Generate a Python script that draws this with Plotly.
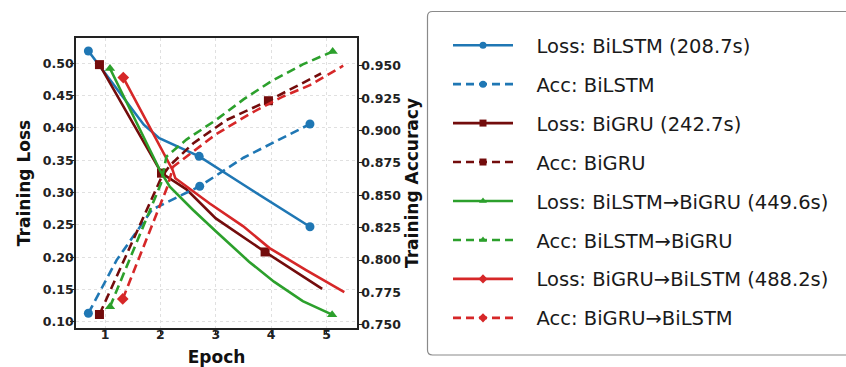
import plotly.graph_objects as go

# ---------------- data ----------------
EPOCH_TICKS = [1, 2, 3, 4, 5]
LOSS_TICKS = [0.10, 0.15, 0.20, 0.25, 0.30, 0.35, 0.40, 0.45, 0.50]
ACC_TICKS = [0.750, 0.775, 0.800, 0.825, 0.850, 0.875, 0.900, 0.925, 0.950]

MODELS = ["BiLSTM", "BiGRU", "BiLSTM→BiGRU", "BiGRU→BiLSTM"]
TIMES = ["208.7s", "242.7s", "449.6s", "488.2s"]

# BiLSTM
BILSTM_LOSS_X = [0.70, 1.70, 1.98, 2.28, 2.70, 3.50, 4.70]
BILSTM_LOSS_Y = [0.519, 0.405, 0.384, 0.372, 0.356, 0.312, 0.247]
BILSTM_LOSS_MARK = [0, 4, 6]
BILSTM_ACC_X = [0.70, 1.21, 1.85, 2.71, 3.50, 4.70]
BILSTM_ACC_Y = [0.759, 0.800, 0.839, 0.857, 0.879, 0.905]
BILSTM_ACC_MARK = [0, 3, 5]

# BiGRU
BIGRU_LOSS_X = [0.90, 2.02, 2.47, 3.00, 3.89, 4.92]
BIGRU_LOSS_Y = [0.498, 0.330, 0.305, 0.260, 0.208, 0.151]
BIGRU_LOSS_MARK = [0, 1, 4]
BIGRU_ACC_X = [0.90, 2.02, 2.17, 2.59, 3.19, 3.95, 4.90]
BIGRU_ACC_Y = [0.758, 0.864, 0.873, 0.890, 0.908, 0.923, 0.944]
BIGRU_ACC_MARK = [0, 5]

# BiLSTM -> BiGRU
HYB1_LOSS_X = [1.09, 2.00, 2.17, 2.59, 3.00, 3.60, 4.05, 4.57, 5.10]
HYB1_LOSS_Y = [0.492, 0.333, 0.309, 0.273, 0.240, 0.193, 0.162, 0.132, 0.111]
HYB1_LOSS_MARK = [0, 8]
HYB1_ACC_X = [1.09, 2.01, 2.11, 2.47, 3.00, 3.50, 4.00, 4.57, 5.11]
HYB1_ACC_Y = [0.764, 0.859, 0.880, 0.893, 0.908, 0.924, 0.938, 0.951, 0.961]
HYB1_ACC_MARK = [0, 8]

# BiGRU -> BiLSTM
HYB2_LOSS_X = [1.33, 2.22, 2.27, 2.89, 3.49, 3.97, 4.63, 5.32]
HYB2_LOSS_Y = [0.478, 0.335, 0.322, 0.283, 0.248, 0.214, 0.180, 0.146]
HYB2_LOSS_MARK = [0]
HYB2_ACC_X = [1.32, 2.13, 2.23, 2.60, 3.00, 3.62, 4.20, 4.70, 5.30]
HYB2_ACC_Y = [0.770, 0.857, 0.872, 0.884, 0.897, 0.913, 0.926, 0.935, 0.950]
HYB2_ACC_MARK = [0]

# ---------------- styling ----------------
COLORS = ["#1f77b4", "#730c0c", "#2ca02c", "#d62728"]
SYMBOLS = ["circle", "square", "triangle-up", "diamond"]
FONT = "DejaVu Sans"
DASH = "9px,5px"
LW = 2.6
MS = 9
PAD = "\u00a0\u00a0\u00a0"

series = [
    (BILSTM_LOSS_X, BILSTM_LOSS_Y, BILSTM_LOSS_MARK, BILSTM_ACC_X, BILSTM_ACC_Y, BILSTM_ACC_MARK),
    (BIGRU_LOSS_X, BIGRU_LOSS_Y, BIGRU_LOSS_MARK, BIGRU_ACC_X, BIGRU_ACC_Y, BIGRU_ACC_MARK),
    (HYB1_LOSS_X, HYB1_LOSS_Y, HYB1_LOSS_MARK, HYB1_ACC_X, HYB1_ACC_Y, HYB1_ACC_MARK),
    (HYB2_LOSS_X, HYB2_LOSS_Y, HYB2_LOSS_MARK, HYB2_ACC_X, HYB2_ACC_Y, HYB2_ACC_MARK),
]


def sizes(n, marks):
    return [MS if i in marks else 0 for i in range(n)]


fig = go.Figure()

for i, (lx, ly, lm, ax, ay, am) in enumerate(series):
    c = COLORS[i]
    fig.add_trace(go.Scatter(
        x=lx, y=ly, mode="lines+markers", yaxis="y", showlegend=False,
        line=dict(color=c, width=LW),
        marker=dict(symbol=SYMBOLS[i], color=c, size=sizes(len(lx), lm), opacity=1, line=dict(width=0)),
        hoverinfo="skip"))
    fig.add_trace(go.Scatter(
        x=ax, y=ay, mode="lines+markers", yaxis="y2", showlegend=False,
        line=dict(color=c, width=LW, dash=DASH),
        marker=dict(symbol=SYMBOLS[i], color=c, size=sizes(len(ax), am), opacity=1, line=dict(width=0)),
        hoverinfo="skip"))

# legend-only entries
for i, m in enumerate(MODELS):
    c = COLORS[i]
    fig.add_trace(go.Scatter(
        x=[None], y=[None], mode="lines+markers", name=f"{PAD}Loss: {m} ({TIMES[i]})",
        legendgroup=f"g{2*i}",
        line=dict(color=c, width=LW), marker=dict(symbol=SYMBOLS[i], color=c, size=7)))
    fig.add_trace(go.Scatter(
        x=[None], y=[None], mode="lines+markers", name=f"{PAD}Acc: {m}",
        legendgroup=f"g{2*i+1}",
        line=dict(color=c, width=LW, dash="8px,5px"), marker=dict(symbol=SYMBOLS[i], color=c, size=7)))

L, T, R, B = 76, 38, 357, 328
W, H = 846, 367
pw, ph = R - L, B - T


def px2x(px):
    return (px - L) / pw


def px2y(py):
    return (B - py) / ph


# rounded legend frame
x0, x1 = px2x(427.5), px2x(856)
y0, y1 = px2y(355), px2y(11.5)
rx, ry = 5 / pw, 5 / ph
path = (f"M{x0+rx},{y1} L{x1-rx},{y1} Q{x1},{y1} {x1},{y1-ry} L{x1},{y0+ry} "
        f"Q{x1},{y0} {x1-rx},{y0} L{x0+rx},{y0} Q{x0},{y0} {x0},{y0+ry} "
        f"L{x0},{y1-ry} Q{x0},{y1} {x0+rx},{y1} Z")
fig.add_shape(type="path", path=path, xref="paper", yref="paper",
              line=dict(color="#8a8a8a", width=1.2), fillcolor="rgba(255,255,255,0)", layer="below")

tickfont = dict(family=FONT, size=12.5, color="#222", weight="bold")
titlefont = dict(family=FONT, size=17, color="#111", weight="bold")

fig.update_layout(
    width=W, height=H,
    margin=dict(l=L, r=W - R, t=T, b=H - B, autoexpand=False),
    paper_bgcolor="white", plot_bgcolor="white",
    font=dict(family=FONT, color="#222"),
    xaxis=dict(
        range=[0.4765, 5.549], tickvals=EPOCH_TICKS, ticktext=[str(v) for v in EPOCH_TICKS],
        showgrid=True, gridcolor="#e0e0e0", griddash="dot", gridwidth=1,
        showline=True, linecolor="#222", linewidth=1.6, mirror=True,
        ticks="outside", ticklen=4, tickwidth=1.2, tickcolor="#222",
        tickfont=tickfont, zeroline=False, ticklabelstandoff=-10,
        title=dict(text="Epoch", font=titlefont, standoff=10)),
    yaxis=dict(
        range=[0.0903, 0.5392], tickvals=LOSS_TICKS, ticktext=[f"{v:.2f}" for v in LOSS_TICKS],
        showgrid=True, gridcolor="#e0e0e0", griddash="dot", gridwidth=1,
        showline=True, linecolor="#222", linewidth=1.6,
        ticks="outside", ticklen=4, tickwidth=1.2, tickcolor="#222",
        tickfont=tickfont, zeroline=False, ticklabelstandoff=-6,
        title=dict(text="Training Loss", font=titlefont, standoff=8)),
    yaxis2=dict(
        range=[0.7476, 0.9714], tickvals=ACC_TICKS, ticktext=[f"{v:.3f}" for v in ACC_TICKS],
        overlaying="y", side="right", showgrid=False,
        showline=True, linecolor="#222", linewidth=1.6,
        ticks="outside", ticklen=4, tickwidth=1.2, tickcolor="#222",
        tickfont=tickfont, zeroline=False, ticklabelstandoff=-4,
        title=dict(text="Training Accuracy", font=titlefont, standoff=6)),
    legend=dict(
        x=px2x(448), y=px2y(26), xanchor="left", yanchor="top",
        bgcolor="rgba(0,0,0,0)", borderwidth=0,
        font=dict(family=FONT, size=19.5, color="#1a1a1a"),
        tracegroupgap=10.6, itemwidth=60, itemsizing="trace", maxheight=340),
    showlegend=True,
)

fig.write_html(
    "out.html",
    config={"displayModeBar": False},
    post_script="document.body.style.margin='0';document.body.style.overflow='hidden';",
)
